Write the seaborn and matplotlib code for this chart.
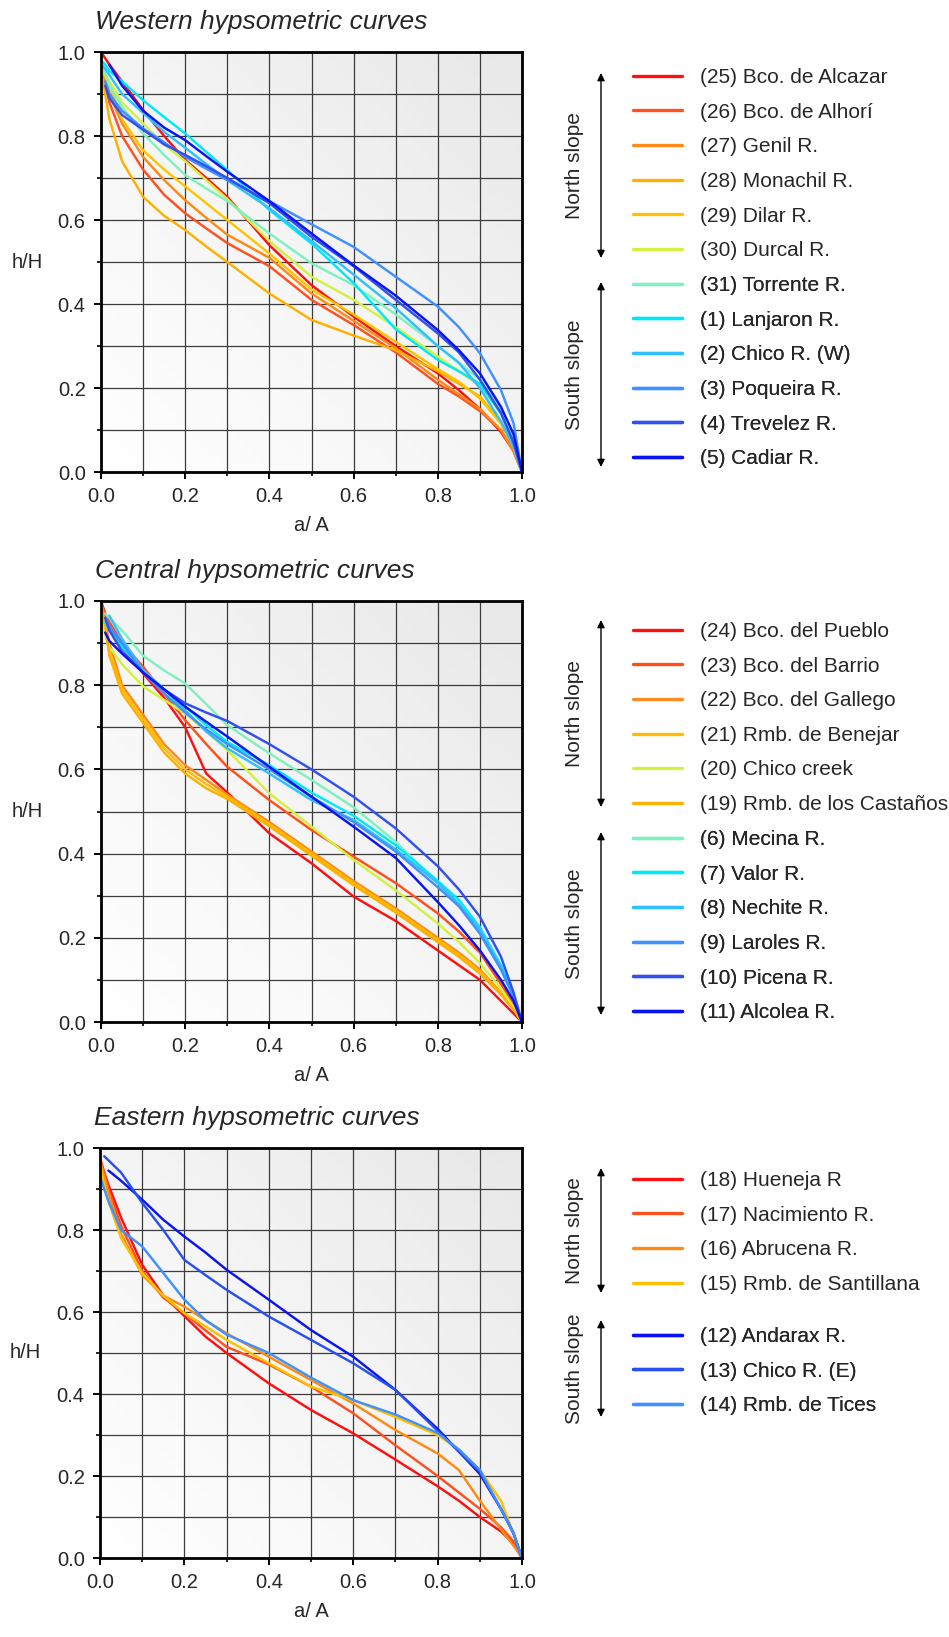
import numpy as np
import pandas as pd
import matplotlib
matplotlib.use("Agg")
import matplotlib.pyplot as plt
from matplotlib.colors import LinearSegmentedColormap
from matplotlib.lines import Line2D
from matplotlib.ticker import MultipleLocator
import seaborn as sns

# ============================================
# DATA
# ============================================

nan = np.nan
a_grid = [0, 0.01, 0.02, 0.05, 0.1, 0.15, 0.2, 0.25, 0.3, 0.4, 0.5,
          0.6, 0.7, 0.8, 0.85, 0.9, 0.95, 0.98, 1.0]

western_north = {
    "(25) Bco. de Alcazar": [1.0, 0.985, 0.97, 0.93, 0.862, 0.80, 0.743, 0.70, 0.655, 0.54, 0.445, 0.37, 0.30, 0.235, 0.195, 0.15, 0.095, 0.05, 0.0],
    "(26) Bco. de Alhorí": [0.97, 0.92, 0.88, 0.80, 0.72, 0.66, 0.616, 0.58, 0.545, 0.49, 0.41, 0.35, 0.285, 0.21, 0.18, 0.145, 0.10, 0.05, 0.0],
    "(27) Genil R.": [0.98, 0.94, 0.90, 0.83, 0.75, 0.695, 0.647, 0.605, 0.565, 0.51, 0.425, 0.36, 0.295, 0.22, 0.185, 0.15, 0.10, 0.05, 0.0],
    "(28) Monachil R.": [0.96, 0.90, 0.84, 0.74, 0.655, 0.61, 0.576, 0.537, 0.50, 0.425, 0.362, 0.325, 0.29, 0.24, 0.21, 0.18, 0.12, 0.06, 0.0],
    "(29) Dilar R.": [0.97, 0.94, 0.92, 0.84, 0.766, 0.72, 0.68, 0.64, 0.60, 0.52, 0.435, 0.375, 0.31, 0.245, 0.215, 0.175, 0.115, 0.06, 0.0],
    "(30) Durcal R.": [0.96, 0.945, 0.93, 0.88, 0.83, 0.78, 0.74, 0.695, 0.65, 0.55, 0.465, 0.41, 0.345, 0.275, 0.24, 0.205, 0.14, 0.07, 0.0],
}
western_south = {
    "(31) Torrente R.": [0.97, 0.95, 0.92, 0.87, 0.806, 0.755, 0.707, 0.675, 0.645, 0.568, 0.497, 0.445, 0.375, 0.30, 0.26, 0.22, 0.15, 0.08, 0.0],
    "(1) Lanjaron R.": [0.98, 0.97, 0.955, 0.93, 0.885, 0.845, 0.806, 0.762, 0.719, 0.624, 0.544, 0.45, 0.34, 0.267, 0.24, 0.21, 0.14, 0.07, 0.0],
    "(2) Chico R. (W)": [0.97, 0.96, 0.945, 0.90, 0.855, 0.81, 0.772, 0.733, 0.695, 0.628, 0.55, 0.47, 0.39, 0.30, 0.26, 0.20, 0.12, 0.06, 0.0],
    "(3) Poqueira R.": [nan, 0.93, 0.90, 0.86, 0.818, 0.785, 0.75, 0.722, 0.695, 0.645, 0.59, 0.536, 0.465, 0.394, 0.345, 0.283, 0.195, 0.116, 0.0],
    "(4) Trevelez R.": [nan, 0.92, 0.89, 0.85, 0.815, 0.78, 0.755, 0.728, 0.70, 0.64, 0.56, 0.49, 0.41, 0.33, 0.285, 0.22, 0.14, 0.07, 0.0],
    "(5) Cadiar R.": [nan, nan, 0.969, 0.92, 0.86, 0.82, 0.79, 0.752, 0.715, 0.645, 0.568, 0.492, 0.42, 0.338, 0.29, 0.235, 0.155, 0.09, 0.0],
}

central_north = {
    "(24) Bco. del Pueblo": [1.0, 0.97, 0.94, 0.89, 0.828, 0.77, 0.70, 0.59, 0.545, 0.448, 0.377, 0.298, 0.24, 0.17, 0.135, 0.10, 0.05, 0.02, 0.0],
    "(23) Bco. del Barrio": [0.99, 0.97, 0.95, 0.90, 0.844, 0.78, 0.717, 0.66, 0.606, 0.527, 0.456, 0.393, 0.33, 0.258, 0.215, 0.165, 0.09, 0.04, 0.0],
    "(22) Bco. del Gallego": [1.0, 0.95, 0.90, 0.80, 0.73, 0.66, 0.61, 0.575, 0.54, 0.475, 0.405, 0.335, 0.27, 0.20, 0.165, 0.125, 0.07, 0.03, 0.0],
    "(21) Rmb. de Benejar": [0.98, 0.93, 0.88, 0.79, 0.72, 0.65, 0.60, 0.565, 0.535, 0.47, 0.40, 0.33, 0.265, 0.195, 0.16, 0.12, 0.068, 0.03, 0.0],
    "(20) Chico creek": [0.97, 0.92, 0.89, 0.85, 0.797, 0.765, 0.733, 0.69, 0.646, 0.543, 0.464, 0.385, 0.313, 0.234, 0.19, 0.14, 0.08, 0.035, 0.0],
    "(19) Rmb. de los Castaños": [0.99, 0.94, 0.87, 0.78, 0.71, 0.64, 0.59, 0.555, 0.53, 0.465, 0.395, 0.325, 0.26, 0.19, 0.155, 0.115, 0.065, 0.03, 0.0],
}
central_south = {
    "(6) Mecina R.": [nan, 0.97, 0.96, 0.93, 0.87, 0.835, 0.804, 0.755, 0.705, 0.638, 0.575, 0.51, 0.428, 0.33, 0.28, 0.21, 0.124, 0.06, 0.0],
    "(7) Valor R.": [nan, 0.95, 0.93, 0.89, 0.835, 0.79, 0.75, 0.705, 0.665, 0.61, 0.545, 0.49, 0.42, 0.335, 0.29, 0.225, 0.135, 0.065, 0.0],
    "(8) Nechite R.": [nan, nan, 0.965, 0.91, 0.836, 0.79, 0.74, 0.69, 0.65, 0.59, 0.527, 0.48, 0.41, 0.33, 0.28, 0.22, 0.13, 0.06, 0.0],
    "(9) Laroles R.": [nan, 0.96, 0.94, 0.90, 0.83, 0.78, 0.735, 0.695, 0.66, 0.60, 0.535, 0.475, 0.405, 0.32, 0.275, 0.21, 0.125, 0.06, 0.0],
    "(10) Picena R.": [nan, 0.96, 0.93, 0.88, 0.83, 0.79, 0.757, 0.735, 0.715, 0.66, 0.60, 0.535, 0.46, 0.37, 0.315, 0.25, 0.155, 0.07, 0.0],
    "(11) Alcolea R.": [nan, 0.925, 0.905, 0.875, 0.83, 0.79, 0.749, 0.713, 0.678, 0.606, 0.535, 0.464, 0.39, 0.285, 0.23, 0.17, 0.10, 0.05, 0.0],
}

eastern_north = {
    "(18) Hueneja R": [0.975, 0.94, 0.91, 0.83, 0.715, 0.64, 0.59, 0.54, 0.50, 0.426, 0.361, 0.304, 0.24, 0.175, 0.14, 0.10, 0.065, 0.035, 0.0],
    "(17) Nacimiento R.": [0.97, 0.94, 0.90, 0.81, 0.70, 0.635, 0.597, 0.555, 0.515, 0.472, 0.418, 0.353, 0.275, 0.20, 0.16, 0.12, 0.075, 0.04, 0.0],
    "(16) Abrucena R.": [0.97, 0.93, 0.89, 0.79, 0.69, 0.64, 0.613, 0.58, 0.548, 0.491, 0.434, 0.377, 0.312, 0.255, 0.215, 0.14, 0.07, 0.03, 0.0],
    "(15) Rmb. de Santillana": [0.96, 0.91, 0.87, 0.78, 0.695, 0.64, 0.597, 0.565, 0.532, 0.475, 0.418, 0.385, 0.344, 0.30, 0.265, 0.215, 0.14, 0.06, 0.0],
}
eastern_south = {
    "(12) Andarax R.": [nan, nan, 0.945, 0.92, 0.874, 0.825, 0.784, 0.745, 0.703, 0.63, 0.556, 0.491, 0.41, 0.315, 0.26, 0.205, 0.12, 0.06, 0.0],
    "(13) Chico R. (E)": [nan, 0.98, 0.97, 0.94, 0.866, 0.80, 0.727, 0.69, 0.654, 0.589, 0.532, 0.475, 0.41, 0.31, 0.26, 0.21, 0.12, 0.06, 0.0],
    "(14) Rmb. de Tices": [0.93, 0.90, 0.87, 0.80, 0.76, 0.695, 0.63, 0.58, 0.545, 0.50, 0.44, 0.385, 0.35, 0.305, 0.265, 0.215, 0.12, 0.06, 0.0],
}

# colours, in legend order
western_colors = ["#ff1010", "#ff5020", "#ff8a18", "#ffb000", "#ffc400", "#d4f040",
                  "#80f0c0", "#00e8f8", "#30c0ff", "#4090ff", "#3050f0", "#0a14f0"]
central_colors = ["#ff1010", "#ff5018", "#ff8a20", "#ffbc00", "#d4f040", "#ffb000",
                  "#80f0c0", "#00e8f8", "#30c0ff", "#4090ff", "#3050f0", "#0a14f0"]
eastern_colors = ["#ff1010", "#ff5020", "#ff8a10", "#ffc000",
                  "#0a14f0", "#2850f0", "#4090ff"]

# ============================================
# FIGURE SETUP
# ============================================

sns.set_style("ticks")
plt.rcParams["font.family"] = ["Liberation Sans", "DejaVu Sans"]

W, H = 949, 1637
fig = plt.figure(figsize=(W / 100, H / 100), dpi=100)

bg_cmap = LinearSegmentedColormap.from_list("bg", ["#ffffff", "#f5f5f5", "#e8e8e8"])
bg = np.add.outer(np.linspace(0, 1, 50), np.linspace(0, 1, 50))  # row=y, col=x


def px_box(left, top, right, bottom):
    return [left / W, 1 - bottom / H, (right - left) / W, (bottom - top) / H]


def draw_panel(box, title, north, south, colors, leg_top_n, leg_top_s,
               arrow_n, arrow_s):
    ax = fig.add_axes(px_box(*box))
    curves = {**north, **south}
    names = list(curves.keys())
    palette = dict(zip(names, colors))

    df = pd.DataFrame(
        [(name, a, h) for name in names for a, h in zip(a_grid, curves[name])],
        columns=["name", "a", "h"],
    ).dropna()

    ax.imshow(bg, extent=(0, 1, 0, 1), origin="lower", cmap=bg_cmap,
              aspect="auto", zorder=0)
    sns.lineplot(data=df, x="a", y="h", hue="name", hue_order=names,
                 palette=palette, linewidth=1.75, legend=False, sort=False,
                 estimator=None, ax=ax, zorder=3)

    ax.set_xlim(0, 1)
    ax.set_ylim(0, 1)
    ax.xaxis.set_major_locator(MultipleLocator(0.2))
    ax.yaxis.set_major_locator(MultipleLocator(0.2))
    ax.xaxis.set_minor_locator(MultipleLocator(0.1))
    ax.yaxis.set_minor_locator(MultipleLocator(0.1))
    ax.xaxis.set_major_formatter(lambda v, p: f"{v:.1f}")
    ax.yaxis.set_major_formatter(lambda v, p: f"{v:.1f}")
    ax.grid(True, which="both", color="#3c3c3c", linewidth=0.9, zorder=1)
    ax.set_axisbelow(False)
    for ln in ax.get_xgridlines() + ax.get_ygridlines():
        ln.set_zorder(1)
    ax.tick_params(which="major", direction="out", length=5, width=1.4,
                   labelsize=14.5, pad=6, color="black")
    ax.tick_params(which="minor", direction="out", length=3, width=1.2,
                   color="black")
    for s in ax.spines.values():
        s.set_visible(True)
        s.set_linewidth(2.0)
        s.set_color("black")
        s.set_zorder(4)

    ax.set_xlabel("a/ A", fontsize=14.5, labelpad=7)
    ax.set_ylabel("h/H", fontsize=14.5, rotation=0, ha="center", va="center")
    ax.yaxis.set_label_coords(-0.176, 0.5)
    ax.text(-0.014, 1.0 + 30 / (box[3] - box[1]), title, transform=ax.transAxes,
            fontsize=19, style="italic", ha="left", va="center")

    # legends: one for each slope group
    for group, top in ((north, leg_top_n), (south, leg_top_s)):
        handles = [Line2D([], [], color=palette[n], linewidth=2.4) for n in group]
        leg = ax.legend(handles, list(group.keys()), loc="upper left",
                        bbox_to_anchor=(633 / W, 1 - top / H),
                        bbox_transform=fig.transFigure, frameon=False,
                        borderpad=0, borderaxespad=0, handlelength=2.36,
                        handletextpad=0.85, labelspacing=0.75, fontsize=15)
        ax.add_artist(leg)

    # slope arrows and labels
    for (y0, y1), label in ((arrow_n, "North slope"), (arrow_s, "South slope")):
        ax.annotate("", xy=(601, H - y1), xytext=(601, H - y0),
                    xycoords="figure pixels", textcoords="figure pixels",
                    arrowprops=dict(arrowstyle="<|-|>", color="black", lw=1.0,
                                    mutation_scale=11, shrinkA=0, shrinkB=0))
        fig.text(575 / W, 1 - (y0 + y1) / 2 / H, label, rotation=90,
                 ha="center", va="center", fontsize=15)
    return ax


draw_panel((101, 52, 522, 472), "Western hypsometric curves",
           western_north, western_south, western_colors,
           68, 276, (73, 258), (282, 467))
draw_panel((101, 601, 522, 1022), "Central hypsometric curves",
           central_north, central_south, central_colors,
           622, 830, (620, 807), (832, 1015))
draw_panel((100, 1148, 522, 1558), "Eastern hypsometric curves",
           eastern_north, eastern_south, eastern_colors,
           1171, 1327, (1168, 1293), (1320, 1417))

plt.savefig("out.png", dpi=100)
